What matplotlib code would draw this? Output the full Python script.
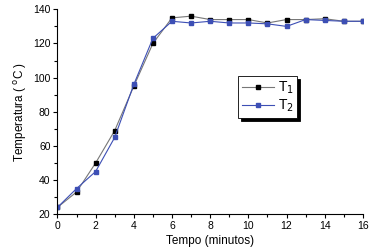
import matplotlib.pyplot as plt
from matplotlib.ticker import MultipleLocator

plt.rcParams['font.family'] = ['Liberation Sans', 'DejaVu Sans']

tempo = [0, 1, 2, 3, 4, 5, 6, 7, 8, 9, 10, 11, 12, 13, 14, 15, 16]
t1 = [24, 33, 50, 69, 95, 120, 135, 136, 134, 134, 134, 132, 134, 134, 134.5, 133, 133]
t2 = [24, 35, 45, 65, 96, 123, 133, 132, 133, 132, 132, 131.5, 130, 134, 133.5, 133, 133]

fig = plt.figure(figsize=(3.78, 2.52), dpi=100)
ax = fig.add_axes([0.152, 0.150, 0.808, 0.813])

ax.plot(tempo, t1, color='#777777', lw=0.8, marker='s', ms=3.3,
        mfc='black', mec='black', label='T$_1$')
ax.plot(tempo, t2, color='#3d4fb5', lw=0.8, marker='s', ms=3.3,
        mfc='#3d4fb5', mec='#3d4fb5', label='T$_2$')

ax.set_xlim(0, 16)
ax.set_ylim(20, 140)
ax.xaxis.set_major_locator(MultipleLocator(2))
ax.xaxis.set_minor_locator(MultipleLocator(1))
ax.yaxis.set_major_locator(MultipleLocator(20))
ax.yaxis.set_minor_locator(MultipleLocator(10))
ax.tick_params(which='major', length=3, width=0.8, labelsize=7.5, pad=2)
ax.tick_params(which='minor', length=2, width=0.8)
for s in ['top', 'right']:
    ax.spines[s].set_visible(False)

ax.set_xlabel('Tempo (minutos)', fontsize=8.5, labelpad=3)
ax.set_ylabel('Temperatura ( $^{\\rm o}$C )', fontsize=8.5, labelpad=3)

leg = ax.legend(loc='upper left', bbox_to_anchor=(0.592, 0.675), borderaxespad=0,
                fontsize=10, frameon=True, fancybox=False, edgecolor='black',
                shadow={'color': 'black', 'alpha': 1}, handlelength=2.3,
                borderpad=0.25, labelspacing=0.15, handletextpad=0.3)
leg.get_frame().set_linewidth(0.6)

plt.savefig('out.png', dpi=100)
